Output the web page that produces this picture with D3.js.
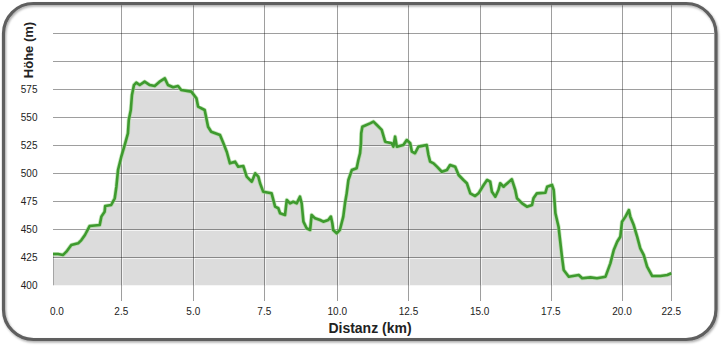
<!DOCTYPE html>
<html>
<head>
<meta charset="utf-8">
<script src="https://cdn.jsdelivr.net/npm/d3@7"></script>
<style>
  html, body { margin: 0; padding: 0; background: #fff; }
  svg { display: block; }
  text { font-family: "Liberation Sans", Arial, sans-serif; }
</style>
</head>
<body>
<script>
// ---- data (distance in km, elevation in m) ----
const distances = [
  0.00, 0.18, 0.37, 0.49, 0.67, 0.92, 1.04, 1.17, 1.34, 1.71,
  1.77, 1.89, 1.91, 2.13, 2.26, 2.32, 2.38, 2.50, 2.62, 2.73,
  2.76, 2.83, 2.87, 2.94, 3.02, 3.14, 3.31, 3.49, 3.66, 3.83,
  4.01, 4.12, 4.30, 4.47, 4.58, 4.93, 5.11, 5.17, 5.40, 5.52,
  5.63, 5.94, 6.06, 6.18, 6.29, 6.47, 6.58, 6.76, 6.88, 7.06,
  7.18, 7.29, 7.35, 7.46, 7.75, 7.87, 7.98, 8.04, 8.21, 8.27,
  8.38, 8.49, 8.61, 8.72, 8.78, 8.84, 8.95, 9.07, 9.12, 9.24,
  9.41, 9.52, 9.69, 9.78, 9.83, 9.86, 9.98, 10.09, 10.21, 10.27,
  10.33, 10.39, 10.51, 10.68, 10.74, 10.80, 10.83, 10.84, 10.88, 11.15,
  11.27, 11.39, 11.56, 11.68, 11.91, 11.97, 12.03, 12.09, 12.32, 12.44,
  12.56, 12.62, 12.73, 12.85, 13.14, 13.20, 13.26, 13.38, 13.50, 13.67,
  13.85, 13.96, 14.14, 14.26, 14.43, 14.55, 14.67, 14.84, 14.96, 15.14,
  15.26, 15.37, 15.43, 15.55, 15.66, 15.72, 15.84, 15.90, 16.13, 16.25,
  16.31, 16.49, 16.66, 16.84, 16.89, 17.01, 17.31, 17.37, 17.54, 17.60,
  17.66, 17.77, 17.83, 17.89, 17.95, 18.13, 18.48, 18.60, 18.89, 19.12,
  19.42, 19.59, 19.71, 19.83, 19.94, 20.00, 20.12, 20.24, 20.29, 20.41,
  20.53, 20.64, 20.76, 20.88, 21.06, 21.35, 21.59, 21.73
];
const elevations = [
  427.9, 427.9, 427.1, 430.0, 436.0, 437.5, 440.4, 444.9, 452.9, 453.8,
  461.3, 465.7, 470.8, 471.7, 477.7, 488.0, 502.9, 514.8, 525.3, 535.7,
  547.6, 556.5, 569.9, 578.8, 580.9, 578.8, 581.8, 578.8, 577.9, 581.8,
  584.8, 578.8, 576.8, 577.9, 574.4, 572.9, 567.0, 559.5, 556.5, 541.6,
  537.1, 534.2, 526.8, 519.0, 508.9, 510.4, 505.9, 506.5, 497.0, 492.5,
  500.0, 497.0, 491.1, 483.6, 482.1, 470.2, 468.8, 464.3, 462.8, 476.2,
  473.2, 474.6, 473.2, 479.1, 473.2, 456.8, 450.9, 449.4, 462.8, 459.8,
  458.3, 456.8, 458.3, 461.3, 455.4, 449.4, 446.4, 449.4, 461.3, 473.2,
  482.1, 494.0, 502.9, 504.5, 511.9, 517.9, 526.8, 535.7, 541.6, 544.6,
  546.1, 543.1, 538.7, 528.2, 526.8, 523.8, 532.7, 523.8, 525.3, 529.7,
  526.8, 519.3, 517.9, 523.8, 525.3, 516.3, 510.4, 508.9, 505.9, 501.4,
  502.9, 507.4, 505.9, 498.5, 494.0, 491.1, 482.1, 479.7, 482.1, 489.6,
  494.0, 492.5, 483.6, 479.1, 485.1, 491.1, 488.0, 489.6, 494.6, 485.1,
  477.7, 473.2, 470.2, 471.7, 477.7, 482.1, 482.7, 488.0, 489.6, 485.1,
  464.3, 452.3, 438.9, 425.5, 413.7, 407.7, 409.2, 406.3, 407.1, 406.3,
  407.7, 419.6, 431.5, 438.9, 443.4, 456.8, 461.3, 467.2, 461.3, 453.8,
  443.4, 433.0, 427.1, 416.6, 408.3, 408.3, 409.2, 410.7
];

// axis ticks
const yTickValues = [400, 425, 450, 475, 500, 525, 550, 575];
const yGridValues = [425, 450, 475, 500, 525, 550, 575, 600, 625];
const xTickValues = [0, 2.5, 5, 7.5, 10, 12.5, 15, 17.5, 20, 21.73];
const xTickLabels = ["0.0", "2.5", "5.0", "7.5", "10.0", "12.5", "15.0", "17.5", "20.0", "22.5"];
const xTitle = "Distanz (km)";
const yTitle = "Höhe (m)";

// ---- layout ----
const W = 721, H = 346;
const svg = d3.select("body").append("svg").attr("width", W).attr("height", H);

const x = d3.scaleLinear()
  .domain([0, 2.5, 5, 7.5, 10, 21.73])
  .range([53, 121.3, 193.3, 264.3, 337.3, 671.3]);
const y = d3.scaleLinear().domain([400, 650]).range([285.3, 5.3]);
const plotRight = 714;
const tickBottom = 301;

const defs = svg.append("defs");
const f = defs.append("filter").attr("id", "shadow").attr("x", "-5%").attr("y", "-5%").attr("width", "110%").attr("height", "115%");
f.append("feDropShadow").attr("dx", 1).attr("dy", 1.5).attr("stdDeviation", 1.2).attr("flood-color", "#000").attr("flood-opacity", 0.35);

const data = distances.map((d, i) => ({ d, e: elevations[i] }));

const area = d3.area().x(p => x(p.d)).y0(y(400)).y1(p => y(p.e));
const line = d3.line().x(p => x(p.d)).y(p => y(p.e));

defs.append("clipPath").attr("id", "areaClip").append("path").attr("d", area(data));

// area fill
svg.append("path").attr("d", area(data)).attr("fill", "#dcdcdc");

// white highlights under grid lines inside area
const hl = svg.append("g").attr("clip-path", "url(#areaClip)");
hl.selectAll("line.hh").data(yGridValues).join("line")
  .attr("x1", x(0)).attr("x2", plotRight)
  .attr("y1", v => Math.round(y(v)) + 1.5).attr("y2", v => Math.round(y(v)) + 1.5)
  .attr("stroke", "#f4f4f4").attr("stroke-width", 1);
hl.selectAll("line.vh").data(xTickValues.slice(1)).join("line")
  .attr("x1", v => Math.round(x(v)) + 1.5).attr("x2", v => Math.round(x(v)) + 1.5)
  .attr("y1", y(650)).attr("y2", y(400))
  .attr("stroke", "#f4f4f4").attr("stroke-width", 1);

// horizontal grid
svg.append("g").selectAll("line").data(yGridValues).join("line")
  .attr("x1", x(0)).attr("x2", plotRight)
  .attr("y1", v => Math.round(y(v)) + 0.5).attr("y2", v => Math.round(y(v)) + 0.5)
  .attr("stroke", "rgba(0,0,0,0.38)").attr("stroke-width", 1);

// vertical grid + tick marks
svg.append("g").selectAll("line").data(xTickValues.slice(1)).join("line")
  .attr("x1", v => Math.round(x(v)) + 0.5).attr("x2", v => Math.round(x(v)) + 0.5)
  .attr("y1", y(650)).attr("y2", tickBottom)
  .attr("stroke", "rgba(0,0,0,0.38)").attr("stroke-width", 1);

// left edge of area
svg.append("line")
  .attr("x1", x(0) + 0.5).attr("x2", x(0) + 0.5)
  .attr("y1", y(elevations[0])).attr("y2", y(400))
  .attr("stroke", "rgba(0,0,0,0.25)");

// profile line
svg.append("path").attr("d", line(data))
  .attr("fill", "none").attr("stroke", "#9fd690").attr("stroke-width", 4.2)
  .attr("stroke-linejoin", "round").attr("stroke-opacity", 0.6);
svg.append("path").attr("d", line(data))
  .attr("fill", "none").attr("stroke", "#3e9a2e").attr("stroke-width", 2.6)
  .attr("stroke-linejoin", "round");

// y tick labels
svg.append("g").selectAll("text").data(yTickValues).join("text")
  .attr("x", 37.5).attr("y", v => y(v)).attr("dy", "0.36em")
  .attr("text-anchor", "end").attr("font-size", 10).attr("fill", "#222")
  .text(v => v);

// x tick labels
svg.append("g").selectAll("text").data(xTickValues).join("text")
  .attr("x", (v, i) => i === 0 ? x(v) - 3 : x(v))
  .attr("y", 315)
  .attr("text-anchor", (v, i) => i === 0 ? "start" : "middle")
  .attr("font-size", 10).attr("fill", "#222")
  .text((v, i) => xTickLabels[i]);

// axis titles
svg.append("text").attr("x", 370).attr("y", 332.7)
  .attr("text-anchor", "middle").attr("font-size", 14).attr("font-weight", "bold").attr("fill", "#222")
  .text(xTitle);
svg.append("text").attr("transform", "translate(32.5,50) rotate(-90)")
  .attr("text-anchor", "middle").attr("font-size", 13).attr("font-weight", "bold").attr("fill", "#222")
  .text(yTitle);

// frame
svg.append("rect").attr("x", 3.5).attr("y", 3.5).attr("width", 712.5).attr("height", 336)
  .attr("rx", 30).attr("ry", 30)
  .attr("fill", "none").attr("stroke", "#5e5e5e").attr("stroke-width", 3.2)
  .attr("filter", "url(#shadow)");
</script>
</body>
</html>
